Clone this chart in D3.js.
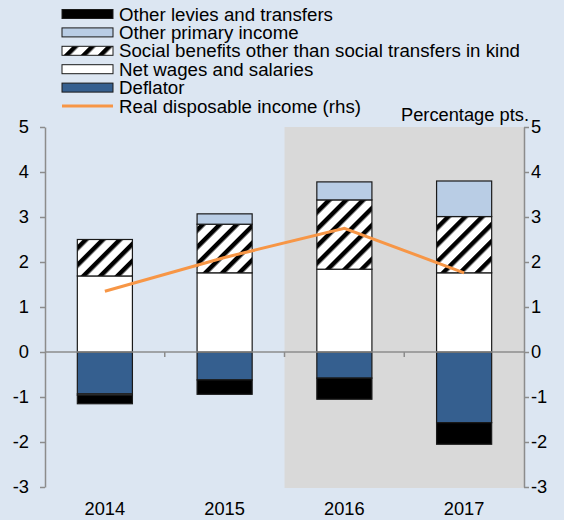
<!DOCTYPE html>
<html>
<head>
<meta charset="utf-8">
<script src="https://cdn.jsdelivr.net/npm/d3@7"></script>
<style>
    body { margin: 0; background: #dce6f2; }
    text { font-family: "Liberation Sans", Arial, sans-serif; fill: #000; }
</style>
</head>
<body>
<div id="chart"></div>
<script>
"use strict";

// chart data (percentage points)
var years = ["2014", "2015", "2016", "2017"];
var netWages = [1.69, 1.76, 1.84, 1.76];
var socialBenefits = [0.81, 1.08, 1.54, 1.25];
var otherPrimary = [-0.03, 0.23, 0.40, 0.79];
var deflator = [-0.93, -0.62, -0.58, -1.57];
var otherLevies = [-0.19, -0.32, -0.47, -0.48];
var realIncome = [1.35, 2.1, 2.75, 1.76];
var yTicks = [-3, -2, -1, 0, 1, 2, 3, 4, 5];
var projectionFrom = "2016";

var legendNames = [
    "Other levies and transfers",
    "Other primary income",
    "Social benefits other than social transfers in kind",
    "Net wages and salaries",
    "Deflator",
    "Real disposable income (rhs)"
];

function renderChart() {

    var width = 564,
        height = 520;
    var plot = { left: 45, right: 524, top: 127, bottom: 487 };

    var svg = d3.select("#chart").append("svg")
        .attr("width", width)
        .attr("height", height);

    // hatch pattern for social benefits
    var defs = svg.append("defs");
    var hatch = defs.append("pattern")
        .attr("id", "hatch")
        .attr("patternUnits", "userSpaceOnUse")
        .attr("width", 12)
        .attr("height", 12)
        .attr("patternTransform", "rotate(45)");
    hatch.append("rect")
        .attr("width", 12).attr("height", 12)
        .attr("fill", "#fff");
    hatch.append("rect")
        .attr("width", 4.5).attr("height", 12)
        .attr("fill", "#000");

    svg.append("rect")
        .attr("width", width)
        .attr("height", height)
        .attr("fill", "#dce6f2");

    // scales
    var x = d3.scaleBand().domain(years).range([plot.left, plot.right]).paddingInner(0.54).paddingOuter(0.27);
    var xOuter = d3.scaleBand().domain(years).range([plot.left, plot.right]);
    var y = d3.scaleLinear().domain([-3, 5]).range([plot.bottom, plot.top]);

    // shaded projection area
    svg.append("rect")
        .attr("x", xOuter(projectionFrom))
        .attr("y", y(5))
        .attr("width", plot.right - xOuter(projectionFrom))
        .attr("height", y(-3) - y(5) + 1)
        .attr("fill", "#d9d9d9");

    // stacked bars
    var rows = years.map(function (d, i) {
        return {
            year: d,
            deflator: deflator[i],
            wages: netWages[i],
            social: socialBenefits[i],
            primary: otherPrimary[i],
            levies: otherLevies[i]
        };
    });
    var keys = ["deflator", "wages", "social", "primary", "levies"];
    var fills = {
        deflator: "#355f8f",
        wages: "#ffffff",
        social: "url(#hatch)",
        primary: "#b9cde5",
        levies: "#000000"
    };
    var series = d3.stack().keys(keys).offset(d3.stackOffsetDiverging)(rows);

    svg.append("g")
        .selectAll("g")
        .data(series)
        .enter().append("g")
        .attr("fill", function (d) { return fills[d.key]; })
        .selectAll("rect")
        .data(function (d) { return d; })
        .enter().append("rect")
        .attr("x", function (d) { return x(d.data.year); })
        .attr("width", x.bandwidth())
        .attr("y", function (d) { return y(Math.max(d[0], d[1])); })
        .attr("height", function (d) { return Math.abs(y(d[0]) - y(d[1])); })
        .attr("stroke", "#1a1a1a")
        .attr("stroke-width", 1.2);

    // zero line with category ticks
    var xAxis = svg.append("g")
        .attr("transform", "translate(0," + y(0) + ")");
    xAxis.append("line")
        .attr("x1", plot.left).attr("x2", plot.right)
        .attr("stroke", "#8c8c8c").attr("stroke-width", 1.5);
    xAxis.selectAll(".ctick")
        .data(years.slice(1))
        .enter().append("line")
        .attr("x1", function (d) { return xOuter(d); })
        .attr("x2", function (d) { return xOuter(d); })
        .attr("y1", 0).attr("y2", 5)
        .attr("stroke", "#8c8c8c").attr("stroke-width", 1.5);

    // category labels
    svg.selectAll(".year")
        .data(years)
        .enter().append("text")
        .attr("x", function (d) { return xOuter(d) + xOuter.bandwidth() / 2; })
        .attr("y", 515)
        .attr("text-anchor", "middle")
        .style("font-size", "18.3px")
        .text(function (d) { return d; });

    // left and right axes (plain hyphen for negatives)
    var fmt = function (d) { return String(d); };
    var leftAxis = svg.append("g")
        .attr("transform", "translate(" + plot.left + ",0)")
        .call(d3.axisLeft(y).tickValues(yTicks).tickFormat(fmt).tickSize(5).tickPadding(11).tickSizeOuter(0));
    var rightAxis = svg.append("g")
        .attr("transform", "translate(" + plot.right + ",0)")
        .call(d3.axisRight(y).tickValues(yTicks).tickFormat(fmt).tickSize(5).tickPadding(2).tickSizeOuter(0));
    [leftAxis, rightAxis].forEach(function (a) {
        a.select(".domain").attr("stroke", "#8c8c8c").attr("stroke-width", 1.5);
        a.selectAll(".tick line").attr("stroke", "#8c8c8c").attr("stroke-width", 1.5);
        a.selectAll(".tick text")
            .style("font-size", "18.3px")
            .style("font-family", "'Liberation Sans', Arial, sans-serif")
            .attr("fill", "#000");
    });

    // real disposable income line
    var line = d3.line()
        .x(function (d, i) { return xOuter(years[i]) + xOuter.bandwidth() / 2; })
        .y(function (d) { return y(d); });
    svg.append("path")
        .datum(realIncome)
        .attr("fill", "none")
        .attr("stroke", "#f79646")
        .attr("stroke-width", 3)
        .attr("d", line);

    // unit label
    svg.append("text")
        .attr("x", 529)
        .attr("y", 121)
        .attr("text-anchor", "end")
        .style("font-size", "18.3px")
        .text("Percentage pts.");

    // legend
    var legendFills = ["#000000", "#b9cde5", "url(#hatch)", "#ffffff", "#355f8f"];
    var legend = svg.append("g");
    legendNames.forEach(function (name, i) {
        var cy = 14 + i * 18.4;
        if (i < 5) {
            legend.append("rect")
                .attr("x", 62).attr("y", cy - 4.5)
                .attr("width", 51).attr("height", 9)
                .attr("fill", legendFills[i])
                .attr("stroke", "#1a1a1a").attr("stroke-width", 1);
        } else {
            legend.append("line")
                .attr("x1", 62).attr("x2", 113)
                .attr("y1", cy).attr("y2", cy)
                .attr("stroke", "#f79646").attr("stroke-width", 3);
        }
        legend.append("text")
            .attr("x", 119)
            .attr("y", cy + 6.5)
            .style("font-size", "18.7px")
            .text(name);
    });
}

renderChart();
</script>
</body>
</html>
